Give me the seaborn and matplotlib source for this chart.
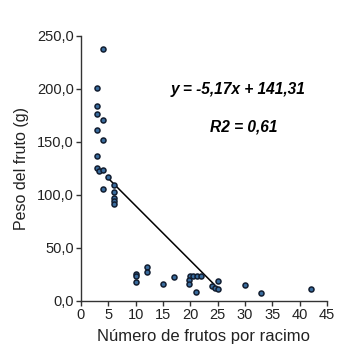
import matplotlib
matplotlib.use("Agg")
import matplotlib.pyplot as plt
import seaborn as sns
import numpy as np
from matplotlib.ticker import FuncFormatter, MultipleLocator

# DATA
frutos = [4, 3, 3, 3, 4, 3, 4, 3, 3, 3.3, 4, 5, 4, 6, 6, 6, 6, 6,
          10, 10, 10, 12, 12, 15, 17,
          20, 20.5, 21.2, 22, 19.8, 19.8, 21, 24, 24.5, 25, 25, 30, 33, 42]
peso = [238, 201, 184, 176, 171, 161, 152, 137, 125, 122, 123, 117, 105, 109, 103, 97, 94, 91,
        25, 23, 18, 32, 27, 16, 22,
        23, 23, 23, 23, 19.5, 16, 8.5, 14, 12, 19, 11, 15, 7, 11]
slope = -5.17
intercept = 141.31
line_x = [5, 24.5]

sns.set_theme(style="ticks")
plt.rcParams['font.family'] = ['Liberation Sans', 'DejaVu Sans']

fig = plt.figure(figsize=(3.56, 3.54), dpi=100)
ax = fig.add_axes([0.2275, 0.1506, 0.691, 0.748])

line_y = [slope * v + intercept for v in line_x]
ax.plot(line_x, line_y, color="black", lw=1.1, zorder=2)

sns.scatterplot(x=frutos, y=peso, ax=ax, s=13, color="#3a6d9f",
                edgecolor="#111d30", linewidth=1.1, zorder=3)

ax.set_xlim(0, 45)
ax.set_ylim(0, 250)
ax.xaxis.set_major_locator(MultipleLocator(5))
ax.yaxis.set_major_locator(MultipleLocator(50))
ax.yaxis.set_major_formatter(FuncFormatter(lambda v, p: f"{v:.1f}".replace(".", ",")))

sns.despine(ax=ax)
for s in ["left", "bottom"]:
    ax.spines[s].set_color("#333333")
    ax.spines[s].set_linewidth(1.0)
ax.tick_params(axis="both", length=3.5, width=1.0, color="#333333",
               labelsize=10.5, pad=1.5, labelcolor="#222222")

ax.set_xlabel("Número de frutos por racimo", fontsize=12, color="#222222", labelpad=5)
ax.set_ylabel("Peso del fruto (g)", fontsize=11.5, color="#222222", labelpad=6)

ax.text(28.7, 199, "y = -5,17x + 141,31", ha="center", va="center",
        fontsize=11.2, fontweight="bold", fontstyle="italic", color="black")
ax.text(29.8, 164, "R2 = 0,61", ha="center", va="center",
        fontsize=11.2, fontweight="bold", fontstyle="italic", color="black")

fig.savefig("out.png", dpi=100, facecolor="white")
